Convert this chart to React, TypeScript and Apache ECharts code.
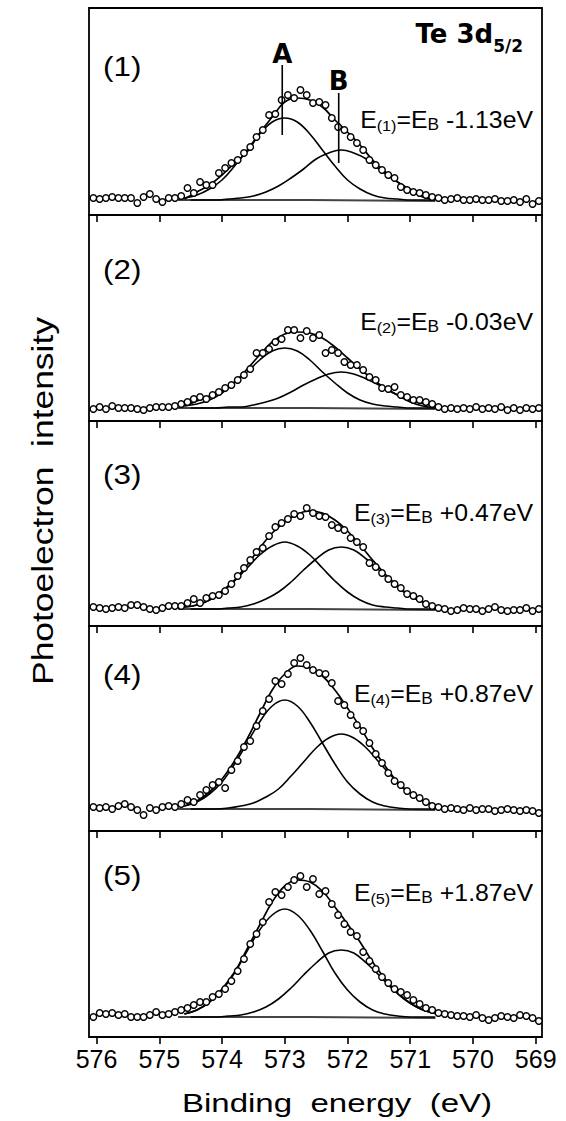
import React, { useEffect, useRef } from "react";
import * as echarts from "echarts";

// Binding energies of the measured points (eV)
const pointEnergy = [
  576.05, 575.95, 575.85, 575.75, 575.65, 575.55, 575.45, 575.35, 575.25, 575.15,
  575.05, 574.95, 574.85, 574.75, 574.65, 574.55, 574.45, 574.35, 574.25, 574.15,
  574.05, 573.95, 573.85, 573.75, 573.65, 573.55, 573.45, 573.35, 573.25, 573.15,
  573.05, 572.95, 572.85, 572.75, 572.65, 572.55, 572.45, 572.35, 572.25, 572.15,
  572.05, 571.95, 571.85, 571.75, 571.65, 571.55, 571.45, 571.35, 571.25, 571.15,
  571.05, 570.95, 570.85, 570.75, 570.65, 570.55, 570.45, 570.35, 570.25, 570.15,
  570.05, 569.95, 569.85, 569.75, 569.65, 569.55, 569.45, 569.35, 569.25, 569.15,
  569.05, 568.95,
];
// Binding energies at which the total fit and component A are sampled (eV)
const fitEnergy = [
  574.6, 574.4, 574.2, 574.0, 573.8, 573.6, 573.4, 573.2, 573.0, 572.8, 572.6,
  572.4, 572.2, 572.0, 571.8, 571.6, 571.4, 571.2, 571.0, 570.8, 570.6,
];
// Binding energies at which component B is sampled (eV)
const fitEnergyB = [
  574.5, 574.3, 574.1, 573.9, 573.7, 573.5, 573.3, 573.1, 572.9, 572.7, 572.5,
  572.3, 572.1, 571.9, 571.7, 571.5, 571.3, 571.1, 570.9, 570.7, 570.5,
];
const baseEnergy = [574.7, 572.6, 570.6];
const xTicks = [576, 575, 574, 573, 572, 571, 570, 569];

// Panel (1)
const points1 = [
  17, 16, 17, 18, 17, 17, 17, 12, 18, 21, 16, 13, 17, 17, 19, 27, 22, 33, 30, 30,
  42, 47, 52, 55, 62, 68, 78, 85, 100, 101, 115, 120, 117, 125, 120, 112, 113, 110, 97, 88,
  85, 78, 72, 65, 55, 50, 45, 40, 37, 28, 25, 23, 22, 20, 18, 17, 15, 16, 17, 15,
  15, 16, 15, 15, 16, 14, 14, 15, 13, 16, 11, 14,
];
const total1 = [16, 23, 30, 40, 52, 63, 82, 98, 113, 117, 115, 108, 95, 83, 70, 55, 43, 33, 25, 18, 16];
const peakA1 = [17, 20, 26, 35, 49, 65, 81, 93, 97, 93, 81, 65, 49, 35, 26, 20, 17, 16, 15, 15, 15];
const peakB1 = [15, 15, 15, 16, 17, 19, 23, 29, 37, 46, 56, 62, 65, 62, 56, 46, 37, 29, 23, 19, 17];
const base1 = [15, 15, 14];

// Panel (2)
const points2 = [
  12, 14, 12, 15, 13, 13, 13, 12, 11, 13, 14, 14, 14, 15, 17, 19, 22, 24, 22, 26,
  29, 33, 36, 41, 46, 52, 68, 68, 72, 79, 82, 91, 91, 83, 90, 83, 86, 68, 71, 68,
  59, 56, 56, 51, 44, 41, 33, 32, 34, 26, 24, 21, 21, 19, 17, 14, 12, 13, 12, 13,
  12, 14, 12, 13, 12, 14, 11, 13, 11, 13, 12, 13,
];
const total2 = [15, 20, 25, 30, 39, 52, 66, 79, 87, 89, 88, 83, 74, 63, 52, 42, 33, 26, 19, 15, 13];
const peakA2 = [15, 17, 21, 28, 38, 49, 61, 70, 73, 70, 61, 49, 38, 28, 21, 17, 15, 14, 13, 13, 13];
const peakB2 = [13, 13, 13, 14, 14, 16, 19, 23, 29, 36, 42, 47, 49, 47, 42, 36, 29, 23, 19, 16, 14];
const base2 = [13, 13, 12];

// Panel (3)
const points3 = [
  19, 18, 17, 18, 19, 18, 21, 21, 19, 17, 16, 18, 20, 20, 20, 23, 27, 23, 28, 30,
  31, 35, 42, 50, 58, 66, 74, 78, 90, 99, 103, 107, 112, 110, 118, 113, 110, 109, 101, 98,
  96, 88, 84, 79, 63, 59, 53, 47, 42, 38, 32, 30, 27, 22, 20, 18, 17, 15, 16, 18,
  17, 17, 15, 17, 19, 16, 15, 16, 16, 18, 15, 17,
];
const total3 = [19, 21, 26, 35, 46, 61, 78, 93, 104, 112, 115, 113, 106, 95, 81, 66, 52, 40, 30, 24, 20];
const peakA3 = [19, 21, 26, 34, 45, 58, 71, 80, 84, 80, 71, 58, 45, 34, 26, 21, 19, 18, 17, 17, 17];
const peakB3 = [17, 17, 17, 18, 19, 22, 27, 34, 44, 56, 67, 76, 79, 76, 67, 56, 44, 34, 27, 22, 19];
const base3 = [17, 17, 16];

// Panel (4)
const points4 = [
  24, 23, 24, 22, 25, 27, 24, 21, 16, 23, 21, 24, 25, 24, 27, 31, 29, 36, 41, 46,
  49, 43, 61, 70, 84, 90, 105, 120, 132, 150, 147, 157, 168, 173, 166, 161, 158, 157, 148, 130,
  126, 116, 106, 100, 88, 77, 68, 58, 50, 46, 40, 36, 33, 29, 25, 24, 22, 23, 22, 21,
  23, 21, 22, 22, 20, 21, 22, 21, 20, 21, 20, 18,
];
const total4 = [25, 30, 39, 52, 70, 92, 117, 141, 157, 165, 163, 155, 141, 123, 104, 83, 65, 49, 38, 30, 26];
const peakA4 = [25, 29, 37, 49, 67, 88, 109, 125, 131, 125, 109, 88, 67, 49, 37, 29, 25, 23, 22, 22, 22];
const peakB4 = [22, 22, 22, 23, 25, 28, 34, 42, 55, 69, 83, 93, 97, 93, 83, 69, 55, 42, 34, 28, 25];
const base4 = [22, 22, 21];

// Panel (5)
const points5 = [
  20, 24, 23, 24, 22, 23, 20, 20, 20, 22, 25, 22, 23, 25, 27, 29, 32, 35, 35, 40,
  43, 48, 56, 66, 78, 93, 103, 115, 135, 145, 142, 150, 157, 161, 150, 158, 143, 146, 133, 122,
  113, 105, 101, 85, 76, 68, 60, 54, 48, 45, 42, 37, 33, 29, 27, 24, 23, 22, 21, 21,
  20, 22, 19, 17, 19, 21, 20, 19, 22, 21, 19, 16,
];
const total5 = [23, 27, 35, 48, 65, 88, 112, 135, 151, 157, 155, 146, 130, 113, 95, 75, 58, 44, 34, 27, 24];
const peakA5 = [23, 27, 35, 47, 64, 86, 107, 122, 128, 122, 107, 86, 64, 47, 35, 27, 23, 21, 20, 20, 20];
const peakB5 = [20, 20, 20, 21, 22, 25, 30, 38, 49, 62, 74, 84, 87, 84, 74, 62, 49, 38, 30, 25, 22];
const base5 = [20, 20, 19];

const panelLabels = ["(1)", "(2)", "(3)", "(4)", "(5)"];
const energyShifts = ["-1.13", "-0.03", "+0.47", "+0.87", "+1.87"];

// Component markers in panel (1)
const markerNames = ["A", "B"];
const markerEnergy = [573.04, 572.14];
const markerTop = [150, 122];
const markerBottom = [80, 52];
const markerLetterY = [161, 134];

// layout
const panelTops = [8, 215, 421, 626, 831];
const panelHeights = [207, 206, 205, 205, 206];
const panelLabelY = [66, 269, 474, 674, 875];
const shiftLabelY = [120, 322, 513, 694, 893];

const FONT = "'Liberation Sans', Arial, Helvetica, sans-serif";
const BOLD_FONT = "'DejaVu Sans', 'Liberation Sans', sans-serif";

const panels = [
  { points: points1, total: total1, a: peakA1, b: peakB1, base: base1 },
  { points: points2, total: total2, a: peakA2, b: peakB2, base: base2 },
  { points: points3, total: total3, a: peakA3, b: peakB3, base: base3 },
  { points: points4, total: total4, a: peakA4, b: peakB4, base: base4 },
  { points: points5, total: total5, a: peakA5, b: peakB5, base: base5 },
];

function buildOption() {
  const grid: any[] = [];
  const xAxis: any[] = [];
  const yAxis: any[] = [];
  const series: any[] = [];
  const last = panels.length - 1;

  panels.forEach((p, i) => {
    grid.push({
      left: 89,
      right: 24,
      top: panelTops[i],
      height: panelHeights[i],
      show: true,
      borderColor: "#000",
      borderWidth: 1.8,
      backgroundColor: "transparent",
    });
    xAxis.push({
      type: "value",
      gridIndex: i,
      min: 568.9,
      max: 576.12,
      inverse: true,
      axisLine: { show: false },
      splitLine: { show: false },
      axisTick: {
        show: true,
        inside: false,
        length: 7,
        customValues: xTicks,
        lineStyle: { color: "#000", width: 1.6 },
      },
      axisLabel: {
        show: i === last,
        customValues: xTicks,
        margin: 9,
        fontSize: 25,
        fontFamily: FONT,
        color: "#000",
      },
    });
    yAxis.push({
      type: "value",
      gridIndex: i,
      min: 0,
      max: panelHeights[i],
      show: false,
    });

    const lineCommon = {
      type: "line",
      xAxisIndex: i,
      yAxisIndex: i,
      symbol: "none",
      silent: true,
    };
    series.push({
      ...lineCommon,
      name: `background ${panelLabels[i]}`,
      data: baseEnergy.map((e, k) => [e, p.base[k]]),
      lineStyle: { color: "#444", width: 2 },
      z: 2,
    });
    series.push({
      ...lineCommon,
      name: `A ${panelLabels[i]}`,
      smooth: 0.4,
      data: fitEnergy.map((e, k) => [e, p.a[k]]),
      lineStyle: { color: "#000", width: 1.6 },
      z: 3,
    });
    series.push({
      ...lineCommon,
      name: `B ${panelLabels[i]}`,
      smooth: 0.4,
      data: fitEnergyB.map((e, k) => [e, p.b[k]]),
      lineStyle: { color: "#000", width: 1.6 },
      z: 3,
    });
    series.push({
      ...lineCommon,
      name: `fit ${panelLabels[i]}`,
      smooth: 0.4,
      data: fitEnergy.map((e, k) => [e, p.total[k]]),
      lineStyle: { color: "#000", width: 1.7 },
      z: 4,
    });
    series.push({
      type: "scatter",
      name: `data ${panelLabels[i]}`,
      xAxisIndex: i,
      yAxisIndex: i,
      symbol: "circle",
      symbolSize: 6.5,
      data: pointEnergy.map((e, k) => [e, p.points[k]]),
      itemStyle: { color: "#fff", borderColor: "#000", borderWidth: 1.4, opacity: 1 },
      z: 5,
      silent: true,
    });
  });

  // component markers A and B in panel (1)
  markerNames.forEach((n, k) => {
    series.push({
      type: "line",
      name: `marker ${n}`,
      xAxisIndex: 0,
      yAxisIndex: 0,
      symbol: "none",
      silent: true,
      data: [
        [markerEnergy[k], markerTop[k]],
        [markerEnergy[k], markerBottom[k]],
      ],
      lineStyle: { color: "#000", width: 1.6 },
      z: 6,
    });
  });
  series.push({
    type: "scatter",
    name: "marker labels",
    xAxisIndex: 0,
    yAxisIndex: 0,
    symbol: "circle",
    symbolSize: 0,
    silent: true,
    itemStyle: { color: "#000", opacity: 1 },
    data: markerNames.map((n, k) => ({ value: [markerEnergy[k], markerLetterY[k]], name: n })),
    label: {
      show: true,
      position: [0, 0],
      align: "center",
      verticalAlign: "middle",
      formatter: (d: any) => d.name,
      fontFamily: BOLD_FONT,
      fontWeight: "bold",
      fontSize: 26,
      color: "#000",
      opacity: 1,
      textBorderWidth: 0,
    },
    z: 7,
  });

  const graphic: any[] = [];
  graphic.push({
    type: "text",
    x: 42,
    y: 501,
    rotation: Math.PI / 2,
    scaleX: 1.18,
    style: {
      text: "Photoelectron  intensity",
      fontFamily: FONT,
      fontSize: 30,
      fill: "#000",
      align: "center",
      verticalAlign: "middle",
      textAlign: "center",
      textVerticalAlign: "middle",
    },
  });
  graphic.push({
    type: "text",
    x: 337,
    y: 1103,
    scaleX: 1.27,
    style: {
      text: "Binding  energy  (eV)",
      fontFamily: FONT,
      fontSize: 26,
      fill: "#000",
      align: "center",
      verticalAlign: "middle",
      textAlign: "center",
      textVerticalAlign: "middle",
    },
  });
  graphic.push({
    type: "text",
    x: 523,
    y: 34,
    style: {
      text: "{t|Te 3d}{u|5/2}",
      align: "right",
      verticalAlign: "middle",
      textAlign: "right",
      textVerticalAlign: "middle",
      fill: "#000",
      rich: {
        t: { fontFamily: BOLD_FONT, fontWeight: "bold", fontSize: 26, lineHeight: 40, fill: "#000" },
        u: {
          fontFamily: BOLD_FONT,
          fontWeight: "bold",
          fontSize: 17,
          lineHeight: 40,
          verticalAlign: "bottom",
          fill: "#000",
        },
      },
    },
  });
  panels.forEach((_, i) => {
    graphic.push({
      type: "text",
      x: 103,
      y: panelLabelY[i],
      scaleX: 1.12,
      style: {
        text: panelLabels[i],
        fontFamily: FONT,
        fontSize: 28,
        fill: "#000",
        align: "left",
        verticalAlign: "middle",
        textAlign: "left",
        textVerticalAlign: "middle",
      },
    });
    graphic.push({
      type: "text",
      x: 533,
      y: shiftLabelY[i],
      scaleX: 1.08,
      style: {
        text: `{m|E}{s|${panelLabels[i]}}{m|=E}{b|B}{m| ${energyShifts[i]}eV}`,
        align: "right",
        verticalAlign: "middle",
        textAlign: "right",
        textVerticalAlign: "middle",
        fill: "#000",
        rich: {
          m: { fontFamily: FONT, fontSize: 23, lineHeight: 26, fill: "#000" },
          s: { fontFamily: FONT, fontSize: 15, lineHeight: 26, verticalAlign: "bottom", fill: "#000" },
          b: { fontFamily: FONT, fontSize: 16, lineHeight: 26, verticalAlign: "bottom", fill: "#000" },
        },
      },
    });
  });

  return {
    animation: false,
    backgroundColor: "#fff",
    grid,
    xAxis,
    yAxis,
    series,
    graphic,
  };
}

export default function App() {
  const ref = useRef<HTMLDivElement>(null);
  useEffect(() => {
    if (!ref.current) return;
    const chart = echarts.init(ref.current, undefined, { renderer: "svg" });
    chart.setOption(buildOption() as any);
    return () => chart.dispose();
  }, []);
  return (
    <div
      ref={ref}
      style={{ position: "fixed", left: 0, top: 0, width: 566, height: 1121, background: "#fff" }}
    />
  );
}
